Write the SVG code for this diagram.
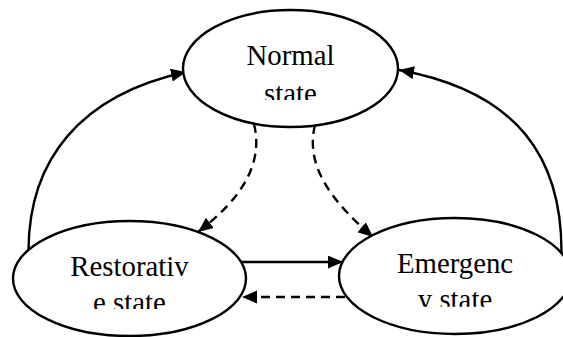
<svg xmlns="http://www.w3.org/2000/svg" width="563" height="337" viewBox="0 0 563 337">
<style>
.node ellipse{fill:#fff;stroke:#000;stroke-width:2.4}
.label{font-family:'Liberation Serif','Times New Roman',serif;font-size:28.8px;fill:#000;text-anchor:middle}
.edge{fill:none;stroke:#000;stroke-width:2.4}
.dash{stroke-dasharray:9 6}
</style>
<defs>
<marker id="arrow" markerUnits="userSpaceOnUse" markerWidth="16" markerHeight="14" refX="15" refY="6.5" orient="auto">
<path d="M0,0 L15,6.5 L0,13 z" fill="#000"/>
</marker>
<clipPath id="clipN"><rect x="180" y="30" width="220" height="70"/></clipPath>
<clipPath id="clipR"><rect x="10" y="240" width="240" height="69"/></clipPath>
<clipPath id="clipE"><rect x="335" y="235" width="240" height="71.7"/></clipPath>
</defs>
<g id="connectors">
<path class="edge" d="M28.5,250 C29,160 80,95 186,72" marker-end="url(#arrow)"/>
<path class="edge" d="M561.5,253 C562,160 520,92 399,70" marker-end="url(#arrow)"/>
<path class="edge dash" d="M254,124 C264,165 240,200 198,232" marker-end="url(#arrow)"/>
<path class="edge dash" d="M315,125 C305,165 330,200 373,237" marker-end="url(#arrow)"/>
<path class="edge" d="M241,262 L343,262" marker-end="url(#arrow)"/>
<path class="edge dash" d="M345,297 L242,297" marker-end="url(#arrow)"/>
</g>
<g id="node-normal" class="node">
<ellipse cx="290.5" cy="68.5" rx="107.5" ry="58.5"/>
<g clip-path="url(#clipN)">
<text class="label" x="290.5" y="65">Normal</text>
<text class="label" x="290.5" y="102.5">state</text>
</g>
</g>
<g id="node-restorative" class="node">
<ellipse cx="129.5" cy="278.5" rx="116.5" ry="57.5"/>
<g clip-path="url(#clipR)">
<text class="label" x="129.5" y="276">Restorativ</text>
<text class="label" x="129.5" y="312">e state</text>
</g>
</g>
<g id="node-emergency" class="node">
<ellipse cx="455" cy="276" rx="116" ry="58"/>
<g clip-path="url(#clipE)">
<text class="label" x="455" y="272.7">Emergenc</text>
<text class="label" x="455" y="309">y state</text>
</g>
</g>
</svg>
